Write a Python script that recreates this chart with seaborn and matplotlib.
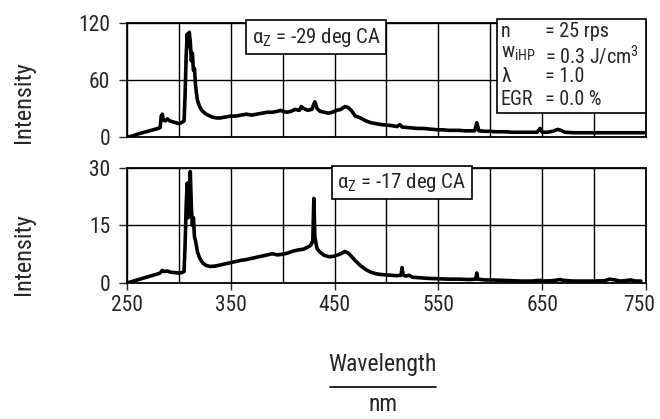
import matplotlib
matplotlib.use("Agg")
import matplotlib.pyplot as plt
from matplotlib.transforms import ScaledTranslation
import seaborn as sns
import pandas as pd

# spectrum at alpha_Z = -29 deg CA
wl_top = [250, 255, 260, 265, 270, 275, 280, 282, 283, 284, 285, 287, 289, 291, 294, 297,
          300, 302, 304, 305, 306, 307, 308, 309, 310, 311, 312, 313, 314, 315, 316, 317,
          318, 320, 322, 325, 328, 332, 336, 340, 345, 350, 355, 360, 365, 370, 375, 380,
          385, 390, 395, 398, 400, 404, 408, 412, 416, 418, 420, 424, 428, 431, 433, 436,
          440, 444, 448, 452, 456, 460, 463, 466, 470, 475, 480, 485, 490, 495, 500, 505,
          510, 513, 515, 520, 525, 530, 535, 540, 545, 550, 555, 560, 565, 570, 575, 580,
          585, 587, 589, 595, 600, 605, 610, 615, 620, 625, 630, 635, 640, 645, 648, 650,
          655, 660, 665, 668, 672, 680, 690, 700, 710, 720, 730, 740, 748]
int_top = [0, 1, 3, 4.5, 6, 7.5, 9, 10, 22, 24, 18, 17, 19, 17, 16, 15,
           14, 15, 16, 17, 45, 85, 108, 95, 110, 100, 80, 88, 70, 72, 55, 45,
           38, 32, 28, 25, 23, 21, 20, 20, 21, 22, 22, 23, 24, 23, 24, 25,
           26, 26, 27, 28, 27, 26, 27, 29, 28, 32, 30, 28, 29, 37, 30, 27,
           26, 25, 26, 28, 29, 32, 31, 28, 22, 20, 17, 15, 14, 13, 12.5, 12,
           11, 13, 10.5, 10, 9.5, 9, 9, 8.5, 8, 7.5, 7.5, 7, 7, 7, 6.5, 6.5,
           6.5, 15, 6.5, 6, 6, 5.5, 5.5, 5.5, 5, 5, 5, 5, 5, 5, 9, 5,
           5, 6, 8, 7, 5, 4.5, 4.5, 4.5, 4.5, 4.5, 4.5, 4.5, 4.5]

# spectrum at alpha_Z = -17 deg CA
wl_bot = [250, 255, 260, 265, 270, 275, 280, 282, 284, 286, 289, 292, 296, 300, 303, 305,
          306, 307, 308, 309, 310, 311, 312, 313, 314, 315, 316, 318, 320, 323, 326, 330,
          335, 340, 345, 350, 355, 360, 365, 370, 375, 380, 385, 390, 395, 400, 405, 410,
          415, 420, 424, 427, 429, 430, 431, 433, 436, 440, 445, 450, 455, 460, 463, 466,
          470, 475, 480, 485, 490, 495, 500, 505, 510, 514, 515, 516, 518, 522, 525, 530,
          540, 550, 560, 570, 580, 586, 587, 588, 595, 600, 610, 620, 630, 640, 648, 650,
          660, 667, 670, 680, 690, 700, 710, 715, 720, 725, 730, 735, 740, 745]
int_bot = [0, 0.4, 0.8, 1.2, 1.6, 2.0, 2.4, 2.6, 3.3, 3.0, 3.1, 2.8, 2.7, 2.6, 2.7, 3.0,
           10, 20, 26, 17, 24, 29, 20, 15, 17, 12, 11, 8, 6.5, 5.2, 4.6, 4.3,
           4.4, 4.7, 5.0, 5.3, 5.6, 5.9, 6.1, 6.4, 6.7, 7.0, 7.3, 7.6, 7.3, 7.5, 7.8, 8.3,
           8.6, 8.8, 9.3, 9.8, 11, 22, 12, 9, 8, 7.2, 6.8, 7.0, 7.5, 8.2, 7.8, 7.0,
           5.8, 4.5, 3.5, 2.8, 2.4, 2.2, 2.1, 2.0, 1.9, 2.0, 4.0, 2.2, 1.8, 2.0, 1.5, 1.4,
           1.2, 1.1, 1.0, 1.0, 0.9, 1.0, 2.6, 1.0, 0.8, 0.8, 0.7, 0.6, 0.5, 0.5, 0.7, 0.5,
           0.6, 0.9, 0.7, 0.5, 0.5, 0.5, 0.6, 1.0, 0.8, 0.5, 0.6, 0.8, 0.5, 0.5]

top_label = r"$\alpha_Z$ = -29 deg CA"
bot_label = r"$\alpha_Z$ = -17 deg CA"
info_lines = ["n", r"w$_{\rm iHP}$", r"$\lambda$", "EGR"]
info_vals = ["= 25 rps", r"= 0.3 J/cm$^3$", "= 1.0", "= 0.0 %"]

sns.set_style("white")
FONT = "Roboto Condensed"
plt.rcParams["font.family"] = [FONT, "DejaVu Sans"]
plt.rcParams["mathtext.fontset"] = "custom"
plt.rcParams["mathtext.rm"] = FONT
plt.rcParams["mathtext.it"] = FONT

fig = plt.figure(figsize=(6.6, 4.19), dpi=100)
ax1 = fig.add_axes([0.1924, 0.673, 0.7864, 0.2728])
ax2 = fig.add_axes([0.1924, 0.3246, 0.7864, 0.2752])

df_top = pd.DataFrame({"wl": wl_top, "I": int_top})
df_bot = pd.DataFrame({"wl": wl_bot, "I": int_bot})
sns.lineplot(data=df_top, x="wl", y="I", ax=ax1, color="black", lw=2.6)
sns.lineplot(data=df_bot, x="wl", y="I", ax=ax2, color="black", lw=2.6)

for ax, ymax, yt in [(ax1, 120, [0, 60, 120]), (ax2, 30, [0, 15, 30])]:
    ax.set_xlim(250, 750)
    ax.set_ylim(0, ymax)
    ax.set_yticks(yt)
    ax.set_xticks(range(250, 751, 100))
    ax.set_xticks(range(300, 751, 50), minor=True)
    ax.grid(True, which="both", color="black", lw=1.0)
    ax.tick_params(axis="y", length=6, width=1.0, labelsize=15.5, pad=6, direction="out", left=True)
    ax.tick_params(axis="x", which="major", length=5, width=1.0, labelsize=15.5, pad=4,
                   direction="out", bottom=True)
    ax.tick_params(axis="x", which="minor", length=0)
    for s in ax.spines.values():
        s.set_color("black")
        s.set_linewidth(1.3)
    ax.set_xlabel("")
    ax.set_ylabel("")
ax1.tick_params(axis="x", labelbottom=False, length=0)

# pull the last x label ("750") a little left, it sits at the right edge
last = ax2.get_xticklabels()[-1]
last.set_transform(last.get_transform() + ScaledTranslation(-5 / 72, 0, fig.dpi_scale_trans))

fig.text(0.036, 1 - 102 / 419, "Intensity", fontsize=17.5, rotation=90, ha="center", va="center")
fig.text(0.036, 1 - 254 / 419, "Intensity", fontsize=17.5, rotation=90, ha="center", va="center")

box = dict(boxstyle="square,pad=0.25", fc="white", ec="black", lw=1.2)
ax1.text(0.24, 0.975, top_label, transform=ax1.transAxes, fontsize=15, va="top", ha="left", bbox=box)
ax2.text(0.405, 0.97, bot_label, transform=ax2.transAxes, fontsize=15, va="top", ha="left", bbox=box)

# parameter box, top right
info_box = plt.Rectangle((0.713, 0.21), 0.287, 0.82, transform=ax1.transAxes, fc="white",
                         ec="black", lw=1.2, clip_on=False, zorder=5)
ax1.add_patch(info_box)
for i, (k, v) in enumerate(zip(info_lines, info_vals)):
    y = 1.01 - i * 0.2
    ax1.text(0.72, y, k, transform=ax1.transAxes, fontsize=14.5, va="top", zorder=6)
    ax1.text(0.805, y, v, transform=ax1.transAxes, fontsize=14.5, va="top", zorder=6)

fig.text(0.58, 0.13, "Wavelength", fontsize=17, ha="center", va="center")
fig.add_artist(plt.Line2D([0.5, 0.66], [0.077, 0.077], color="black", lw=1.2))
fig.text(0.58, 0.02, "nm", fontsize=17, ha="center", va="baseline")

fig.savefig("out.png", dpi=100)
